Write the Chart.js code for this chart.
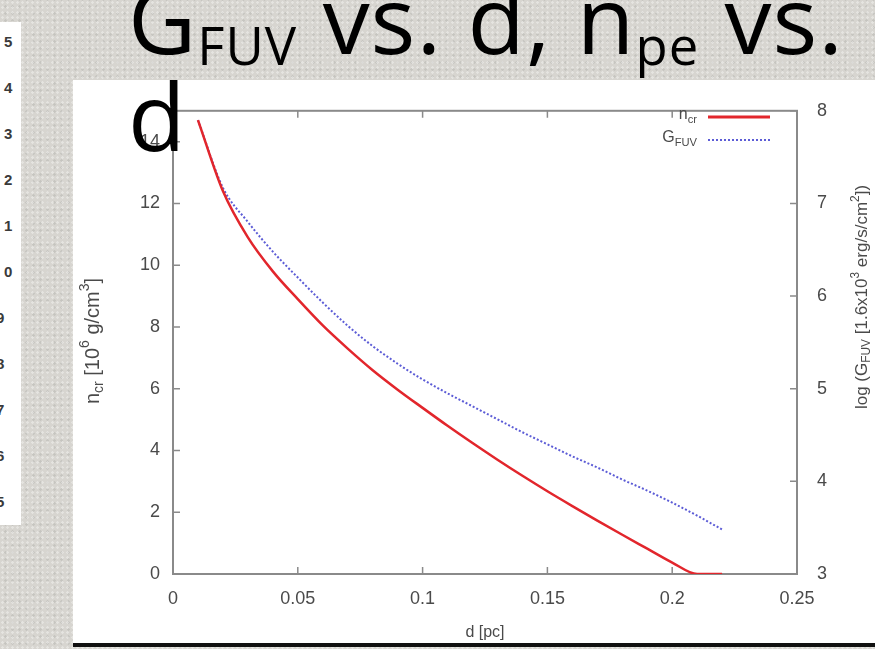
<!DOCTYPE html>
<html>
<head>
<meta charset="utf-8">
<script src="https://cdn.jsdelivr.net/npm/chart.js@4.4.1/dist/chart.umd.min.js"></script>
<style>
  html, body { margin: 0; padding: 0; }
  body {
    width: 875px; height: 649px; overflow: hidden; position: relative;
    background-color: #d7d5d0;
    background-image:
      radial-gradient(rgba(255,255,255,0.35) 1px, transparent 1.5px),
      radial-gradient(rgba(150,150,145,0.25) 1px, transparent 1.5px);
    background-size: 5px 5px, 7px 7px;
    background-position: 0 0, 2px 3px;
  }
  #strip { position: absolute; left: 0; top: 22px; width: 21px; height: 503px; background: #fff; overflow: hidden; }
  #strip span { position: absolute; font: bold 15px "Liberation Sans", Arial, sans-serif; color: #3a3a3a; }
  #plot { position: absolute; left: 73px; top: 80px; width: 802px; height: 563px; background: #fff; }
  #bar { position: absolute; left: 73px; top: 643px; width: 802px; height: 4px; background: #111; }
  #title {
    position: absolute; left: 128px; top: -30px; white-space: nowrap;
    font: 94px/97px "Open Sans", sans-serif; letter-spacing: 1px; color: #000; z-index: 5;
  }
  #title sub { font-size: 0.56em; line-height: 0; vertical-align: baseline; position: relative; top: 0.2em; }
</style>
</head>
<body>
<div id="strip"></div>
<div id="plot"><canvas id="mychart"></canvas></div>
<div id="bar"></div>
<div id="title">G<sub>FUV</sub> vs. d, n<sub>pe</sub> vs.<br>d</div>
<script>
// distance d [pc]
var dValues = [0.01, 0.02, 0.03, 0.04, 0.05, 0.06, 0.07, 0.08, 0.09, 0.10, 0.11,
               0.12, 0.13, 0.14, 0.15, 0.16, 0.17, 0.18, 0.19, 0.20, 0.21, 0.22];
// n_cr [10^6 g/cm^3]
var nCr = [14.7, 12.4, 10.9, 9.8, 8.9, 8.05, 7.3, 6.6, 5.97, 5.38, 4.80,
           4.24, 3.70, 3.18, 2.68, 2.20, 1.73, 1.27, 0.82, 0.37, 0, 0];
// log G_FUV [1.6x10^3 erg/s/cm^2]
var gFuv = [7.9, 7.17, 6.8, 6.48, 6.2, 5.93, 5.68, 5.46, 5.27, 5.10, 4.95,
            4.81, 4.67, 4.53, 4.40, 4.27, 4.15, 4.02, 3.90, 3.77, 3.63, 3.48];

var xTicks = [0, 0.05, 0.1, 0.15, 0.2, 0.25];
var yTicks = [0, 2, 4, 6, 8, 10, 12, 14];
var y2Ticks = [3, 4, 5, 6, 7, 8];
var sideNumbers = ["5", "4", "3", "2", "1", "0", "9", "8", "7", "6", "5"];

// left edge of the neighbouring slide image
var strip = document.getElementById("strip");
sideNumbers.forEach(function (s, i) {
  var el = document.createElement("span");
  el.textContent = s;
  el.style.top = (42 + i * 46 - 22 - 9) + "px";
  el.style.left = i < 6 ? "4px" : "-4px";
  strip.appendChild(el);
});

var canvas = document.getElementById("mychart");
canvas.width = 802;
canvas.height = 563;

var axisColor = "#8a8a8a";
var textColor = "#4a4a4a";
var FONT = '"Liberation Sans", Arial, sans-serif';

function toPoints(xs, ys) {
  return xs.map(function (x, i) { return { x: x, y: ys[i] }; });
}

// text with sub/superscripts
function drawRich(ctx, parts, x, y, size, align) {
  var w = 0;
  parts.forEach(function (p) {
    ctx.font = ((p.sub || p.sup) ? size * 0.7 : size) + "px " + FONT;
    w += ctx.measureText(p.t).width;
  });
  var cx = align === "center" ? x - w / 2 : (align === "right" ? x - w : x);
  ctx.textAlign = "left";
  ctx.textBaseline = "middle";
  parts.forEach(function (p) {
    ctx.font = ((p.sub || p.sup) ? size * 0.7 : size) + "px " + FONT;
    var dy = p.sub ? size * 0.3 : (p.sup ? -size * 0.38 : 0);
    ctx.fillText(p.t, cx, y + dy);
    cx += ctx.measureText(p.t).width;
  });
}

var gnuplotFrame = {
  id: "gnuplotFrame",
  beforeDatasetsDraw: function (chart) {
    var ctx = chart.ctx, a = chart.chartArea;
    var sx = chart.scales.x, sy = chart.scales.y, sy2 = chart.scales.y2;
    var tl = 7;
    ctx.save();
    ctx.strokeStyle = axisColor;
    ctx.lineWidth = 2;
    ctx.strokeRect(a.left, a.top, a.right - a.left, a.bottom - a.top);
    ctx.lineWidth = 1.5;
    ctx.beginPath();
    xTicks.forEach(function (v) {
      var px = sx.getPixelForValue(v);
      ctx.moveTo(px, a.bottom); ctx.lineTo(px, a.bottom - tl);
      ctx.moveTo(px, a.top); ctx.lineTo(px, a.top + tl);
    });
    yTicks.forEach(function (v) {
      var py = sy.getPixelForValue(v);
      ctx.moveTo(a.left, py); ctx.lineTo(a.left + tl, py);
    });
    y2Ticks.forEach(function (v) {
      var py = sy2.getPixelForValue(v);
      ctx.moveTo(a.right, py); ctx.lineTo(a.right - tl, py);
    });
    ctx.stroke();
    ctx.restore();
  },
  afterDraw: function (chart) {
    var ctx = chart.ctx, a = chart.chartArea;
    ctx.save();
    ctx.fillStyle = textColor;
    // axis titles
    drawRich(ctx, [{ t: "d [pc]" }], (a.left + a.right) / 2, 553, 16, "center");
    ctx.save();
    ctx.translate(20, 261);
    ctx.rotate(-Math.PI / 2);
    drawRich(ctx, [{ t: "n" }, { t: "cr", sub: true }, { t: " [10" }, { t: "6", sup: true },
                   { t: " g/cm" }, { t: "3", sup: true }, { t: "]" }], 0, 0, 20, "center");
    ctx.restore();
    ctx.save();
    ctx.translate(789, 217);
    ctx.rotate(-Math.PI / 2);
    drawRich(ctx, [{ t: "log (G" }, { t: "FUV", sub: true }, { t: " [1.6x10" }, { t: "3", sup: true },
                   { t: " erg/s/cm" }, { t: "2", sup: true }, { t: "])" }], 0, 0, 17, "center");
    ctx.restore();
    // key
    drawRich(ctx, [{ t: "n" }, { t: "cr", sub: true }], 624, 35, 16, "right");
    drawRich(ctx, [{ t: "G" }, { t: "FUV", sub: true }], 624, 58, 16, "right");
    ctx.lineWidth = 3;
    ctx.strokeStyle = "#e2262c";
    ctx.beginPath(); ctx.moveTo(635, 37); ctx.lineTo(697, 37); ctx.stroke();
    ctx.lineWidth = 2;
    ctx.strokeStyle = "#5c5cd6";
    ctx.setLineDash([2, 2]);
    ctx.beginPath(); ctx.moveTo(635, 60); ctx.lineTo(697, 60); ctx.stroke();
    ctx.restore();
  }
};

function fixedTicks(list) {
  return function (scale) {
    scale.ticks = list.map(function (v) { return { value: v }; });
  };
}

new Chart(canvas, {
  type: "line",
  data: {
    datasets: [
      {
        label: "n_cr",
        data: toPoints(dValues, nCr),
        yAxisID: "y",
        borderColor: "#e2262c",
        borderWidth: 2.5,
        pointRadius: 0,
        cubicInterpolationMode: "monotone"
      },
      {
        label: "G_FUV",
        data: toPoints(dValues, gFuv),
        yAxisID: "y2",
        borderColor: "#5c5cd6",
        borderWidth: 2,
        borderDash: [2, 2],
        pointRadius: 0,
        cubicInterpolationMode: "monotone"
      }
    ]
  },
  options: {
    responsive: false,
    animation: false,
    layout: { padding: { top: 17, left: 0, right: 0, bottom: 0 } },
    plugins: { legend: { display: false }, tooltip: { enabled: false } },
    scales: {
      x: {
        type: "linear", min: 0, max: 0.25,
        afterBuildTicks: fixedTicks(xTicks),
        afterFit: function (s) { s.height = 69; },
        grid: { display: false, drawTicks: false },
        border: { display: false },
        ticks: { color: textColor, font: { size: 18, family: FONT }, padding: 14, maxRotation: 0,
                 callback: function (v) { return String(v); } }
      },
      y: {
        position: "left", min: 0, max: 15,
        afterBuildTicks: fixedTicks(yTicks),
        afterFit: function (s) { s.width = 100; },
        grid: { display: false, drawTicks: false },
        border: { display: false },
        ticks: { color: textColor, font: { size: 18, family: FONT }, padding: 13 }
      },
      y2: {
        position: "right", min: 3, max: 8,
        afterBuildTicks: fixedTicks(y2Ticks),
        afterFit: function (s) { s.width = 78; },
        grid: { display: false, drawTicks: false },
        border: { display: false },
        ticks: { color: textColor, font: { size: 18, family: FONT }, padding: 20 }
      }
    }
  },
  plugins: [gnuplotFrame]
});
</script>
</body>
</html>
